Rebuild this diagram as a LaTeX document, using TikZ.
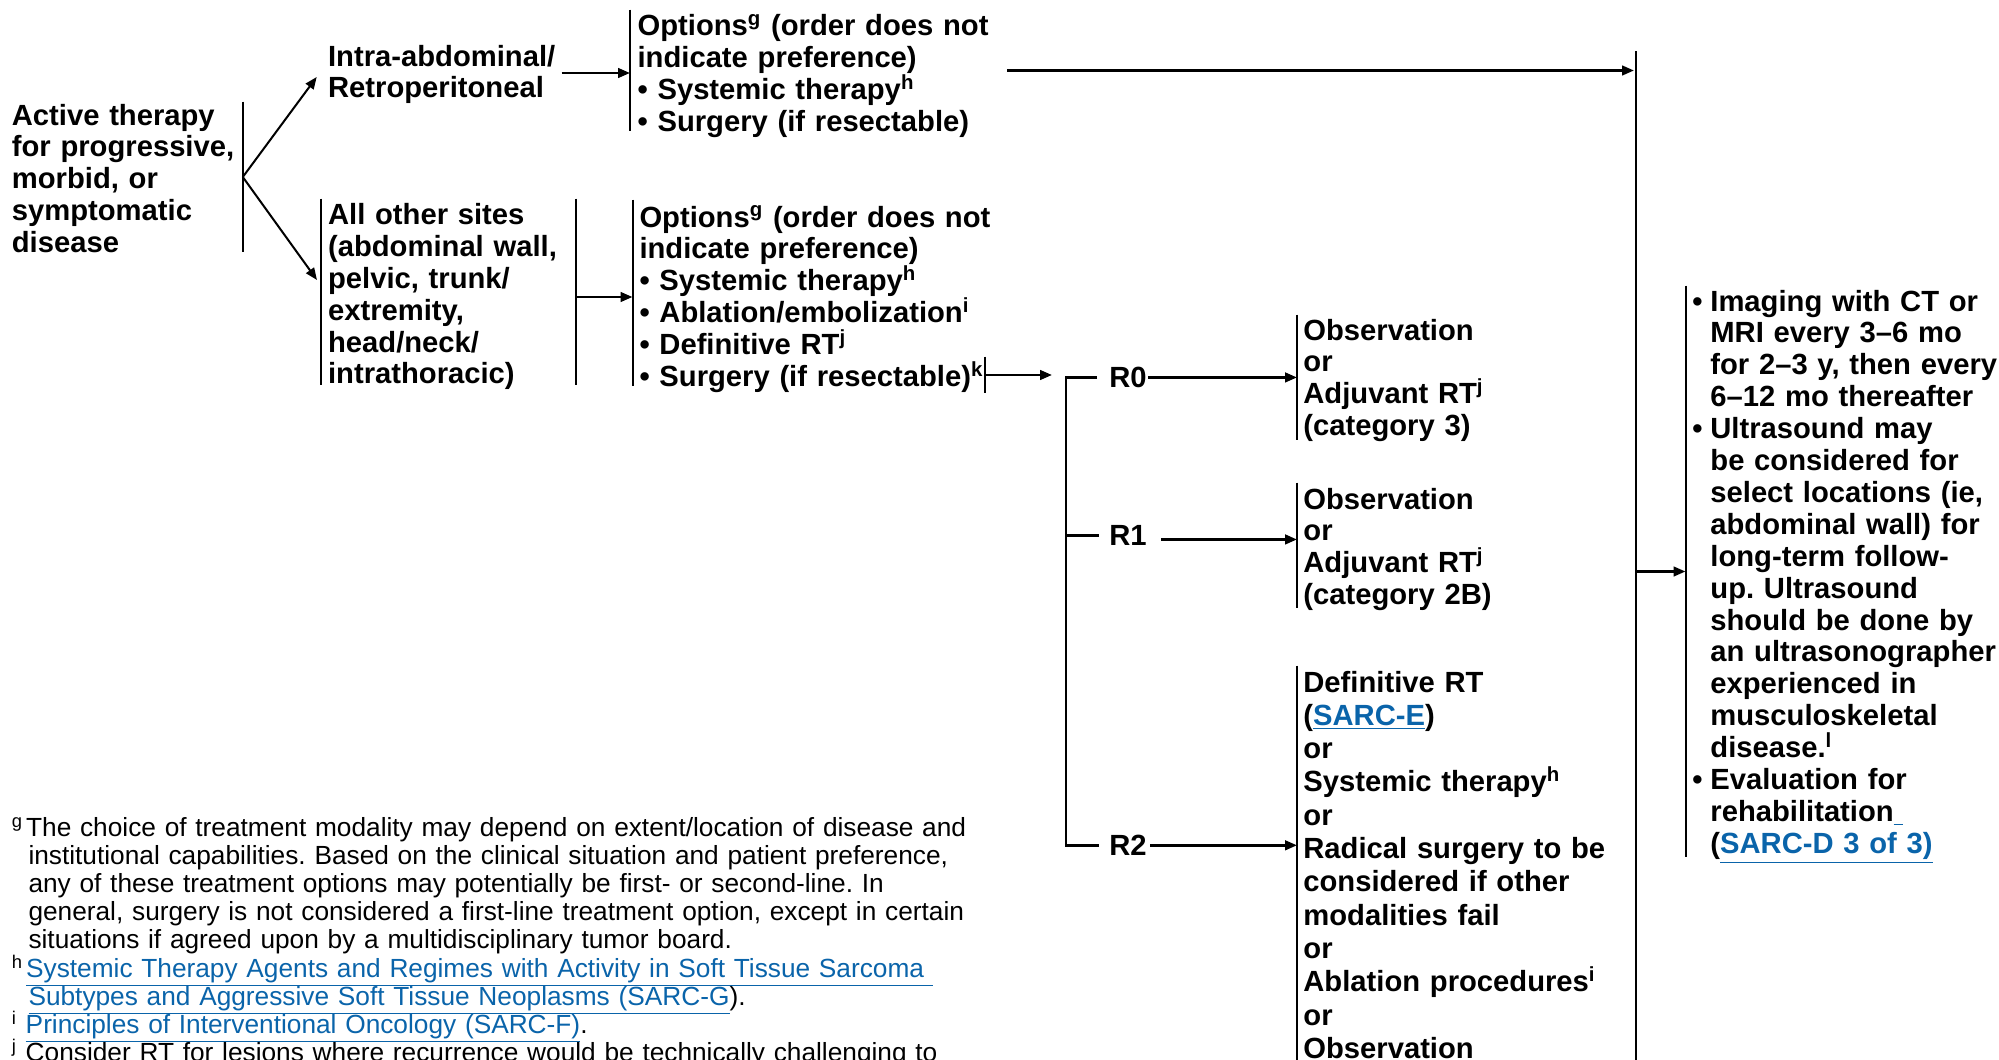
\documentclass[tikz,border=0pt]{standalone}
\usepackage{fontspec}
\setmainfont{Liberation Sans}
\usetikzlibrary{arrows.meta,calc}
\frenchspacing
\definecolor{linkblue}{RGB}{10,100,170}
\newcommand\bodyfnt{\fontsize{14.6pt}{15.95pt}\selectfont\bfseries}
\newcommand\longfnt{\fontsize{14.6pt}{16.65pt}\selectfont\bfseries}
\newcommand\notefnt{\fontsize{13.13pt}{14.1pt}\selectfont}
\newcommand\lnk[1]{{\color{linkblue}\smash{\underline{#1}}}}
\newcommand\fnm[1]{\smash{\textsuperscript{#1}}}
\newcommand\bl{\makebox[9pt][l]{•}}
\newcommand\ind{\hspace*{9pt}}
\newcommand\nind{\hspace*{8.3pt}}

\begin{document}
\begin{tikzpicture}[x=0.5pt,y=-0.5pt,
  blk/.style={anchor=base west, inner ysep=0pt, align=left, font=\bodyfnt},
  bar/.style={line width=1pt},
  ln/.style={line width=1.2pt},
  arr/.style={line width=1.3pt, -{Triangle[length=6pt,width=4.8pt]}},
  thinarr/.style={line width=1pt, -{Triangle[length=6pt,width=4.8pt]}},
]
\useasboundingbox (0,0) rectangle (1999,1060);
\clip (0,0) rectangle (1999,1060);

% ---------- starting point ----------
\node[blk, inner xsep=0pt, text width=115.25pt, text height=11.5pt, text depth=63.5pt]
  (active) at (11.5,125) {Active therapy\\for progressive,\\morbid, or\\symptomatic\\disease};
\draw[bar] (active.north east) -- (active.south east);

% ---------- sites ----------
\node[blk, inner xsep=5.5pt, text width=120pt, text height=11.5pt, text depth=22.5pt]
  (intra) at (316.7,66) {Intra-abdominal/\\Retroperitoneal};
\node[blk, inner xsep=3.35pt, text width=120.3pt, text height=12.7pt, text depth=80.3pt]
  (other) at (321,224.4) {All other sites\\(abdominal wall,\\pelvic, trunk/\\extremity,\\head/neck/\\intrathoracic)};
\draw[bar] (other.north west) -- (other.south west);
\draw[bar] (other.north east) -- (other.south east);

\draw[thinarr] (active.east) -- (intra.west);
\draw[thinarr] (active.east) -- ($(other.west)+(-4,-12)$);

% ---------- treatment options ----------
\node[blk, inner xsep=3.6pt, text width=180pt, text height=12.85pt, text depth=47.65pt]
  (opt1) at (630,35.7) {Options\fnm{g} (order does not\\indicate preference)\\• Systemic therapy\fnm{h}\\• Surgery (if resectable)};
\draw[bar] (opt1.north west) -- (opt1.south west);

\node[blk, inner xsep=3.3pt, text width=180pt, text height=13.5pt, text depth=79.5pt]
  (opt2) at (632.5,227) {Options\fnm{g} (order does not\\indicate preference)\\• Systemic therapy\fnm{h}\\• Ablation/embolization\fnm{i}\\• Definitive RT\fnm{j}\\• Surgery (if resectable)\fnm{k}};
\draw[bar] (opt2.north west) -- (opt2.south west);

\draw[arr] ($(intra.west)+(245,-4)$) -- ($(intra.west -| opt1.west)+(0,-4)$);
\draw[arr] ($(other.east)+(0,5)$) -- ($(other.east -| opt2.west)+(0,5)$);

% ---------- surgical margins ----------
\node[inner sep=0pt, minimum width=0pt, minimum height=18pt] (sb) at (985,375) {};
\draw[bar] (sb.north) -- (sb.south);

\coordinate (rx) at (1066,0);
\node[blk, inner xsep=0pt] (R0) at (1109,387.5) {R0};
\node[blk, inner xsep=0pt] (R1) at (1109,545.5) {R1};
\node[blk, inner xsep=0pt] (R2) at (1109,855.5) {R2};
\draw[ln] ($(R0.west)+(-12,0)$) -- (rx |- R0.west) -- (rx |- R2.west) -- ($(R2.west)+(-10,0)$);
\draw[ln] (rx |- R1.west) -- ($(R1.west)+(-10,0)$);
\draw[arr] (sb.east) -- ($(sb.east -| rx)+(-14,0)$);

\node[blk, inner xsep=3pt, text width=150pt, text height=12.5pt, text depth=50pt]
  (r0box) at (1297,340) {Observation\\or\\Adjuvant RT\fnm{j}\\(category 3)};
\node[blk, inner xsep=3pt, text width=150pt, text height=13pt, text depth=49.5pt]
  (r1box) at (1297,509) {Observation\\or\\Adjuvant RT\fnm{j}\\(category 2B)};
\node[blk, font=\longfnt, inner xsep=3pt, text width=160pt, text height=13pt, text depth=190pt]
  (r2box) at (1297,692) {Definitive RT\\(\lnk{SARC-E})\\or\\Systemic therapy\fnm{h}\\or\\Radical surgery to be\\considered if other\\modalities fail\\or\\Ablation procedures\fnm{i}\\or\\Observation};
\draw[bar] (r0box.north west) -- (r0box.south west);
\draw[bar] (r1box.north west) -- (r1box.south west);
\draw[bar] (r2box.north west) -- (r2box.south west);

\draw[arr] ($(R0.east)+(1,0)$) -- (R0.east -| r0box.west);
\draw[arr] ($(R1.east)+(14,4)$) -- ($(R1.east -| r1box.west)+(0,4)$);
\draw[arr] ($(R2.east)+(3,0)$) -- (R2.east -| r2box.west);

% ---------- follow-up ----------
\coordinate (bigtop) at (1636,51);
\coordinate (bigbot) at (1636,1070);
\draw[bar] (bigtop) -- (bigbot);
\draw[arr] ($(opt1.west)+(377,0)$) -- ($(opt1.west -| bigtop)+(-2,0)$);

\node[blk, inner xsep=3.25pt, text width=155pt, text height=12.5pt, text depth=273pt]
  (fu) at (1685.5,311) {\bl Imaging with CT or\\\ind MRI every 3–6 mo\\\ind for 2–3 y, then every\\\ind 6–12 mo thereafter\\\bl Ultrasound may\\\ind be considered for\\\ind select locations (ie,\\\ind abdominal wall) for\\\ind long-term follow-\\\ind up. Ultrasound\\\ind should be done by\\\ind an ultrasonographer\\\ind experienced in\\\ind musculoskeletal\\\ind disease.\fnm{l}\\\bl Evaluation for\\\ind rehabilitation\lnk{\ }\\\ind (\lnk{SARC-D 3 of 3)}};
\draw[bar] (fu.north west) -- (fu.south west);
\draw[arr] (bigtop |- fu.west) -- (fu.west);

% ---------- footnotes ----------
\node[anchor=base west, inner sep=0pt, align=left, text width=500pt, font=\notefnt] (notes) at (11.5,836)
  {\fnm{g}\hspace{1.5pt}The choice of treatment modality may depend on extent/location of disease and\\
   \nind institutional capabilities. Based on the clinical situation and patient preference,\\
   \nind any of these treatment options may potentially be first- or second-line. In\\
   \nind general, surgery is not considered a first-line treatment option, except in certain\\
   \nind situations if agreed upon by a multidisciplinary tumor board.\\
   \fnm{h}\hspace{1.5pt}\lnk{Systemic Therapy Agents and Regimes with Activity in Soft Tissue Sarcoma\ }\\
   \nind \lnk{Subtypes and Aggressive Soft Tissue Neoplasms (SARC-G}).\\
   \fnm{i} \lnk{Principles of Interventional Oncology (SARC-F)}.\\
   \fnm{j} Consider RT for lesions where recurrence would be technically challenging to};
\end{tikzpicture}
\end{document}
